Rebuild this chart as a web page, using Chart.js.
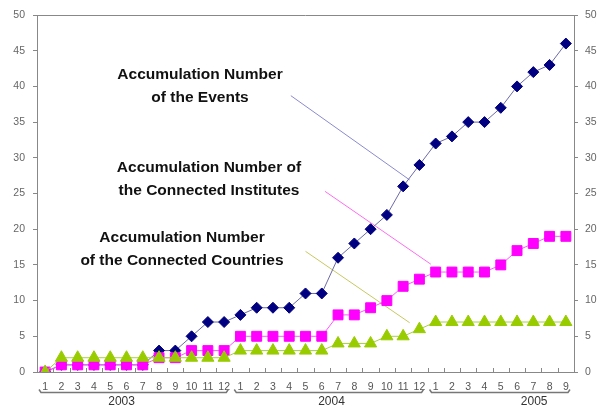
<!DOCTYPE html>
<html>
<head>
<meta charset="utf-8">
<script src="https://cdn.jsdelivr.net/npm/chart.js@4.4.1/dist/chart.umd.min.js"></script>
<style>
  html, body { margin: 0; padding: 0; background: #fff; }
</style>
</head>
<body>
<canvas id="eventChart" width="598" height="407"></canvas>
<script>
// months Jan 2003 .. Sep 2005
const years = ["2003", "2004", "2005"];
const monthsPerYear = [12, 12, 9];
const months = [
  "1","2","3","4","5","6","7","8","9","10","11","12",
  "1","2","3","4","5","6","7","8","9","10","11","12",
  "1","2","3","4","5","6","7","8","9"
];

const events = [0,1,1,1,1,1,1,3,3,5,7,7, 8,9,9,9,11,11,16,18,20,22,26,29, 32,33,35,35,37,40,42,43,46];
const institutes = [0,1,1,1,1,1,1,2,2,3,3,3, 5,5,5,5,5,5,8,8,9,10,12,13, 14,14,14,14,15,17,18,19,19];
const countries = [0,2,2,2,2,2,2,2,2,2,2,2, 3,3,3,3,3,3,4,4,4,5,5,6, 7,7,7,7,7,7,7,7,7];

const yMin = 0, yMax = 50, yStep = 5;

// callout texts and their leader lines (leader ends given in category index / value)
const callouts = [
  { lines: ["Accumulation Number", "of the Events"], x: 200, y: 79,
    color: "#8a8ad0", from: [15.1, 38.7], to: [22.4, 26.9] },
  { lines: ["Accumulation Number of", "the Connected Institutes"], x: 209, y: 172,
    color: "#ff6cf0", from: [17.2, 25.3], to: [23.7, 15.1] },
  { lines: ["Accumulation Number", "of the Connected Countries"], x: 182, y: 242,
    color: "#c8c860", from: [16.0, 16.9], to: [22.4, 6.9] }
];
const yearLabelAt = [4.7, 17.6, 30.05];

const decor = {
  id: "decor",
  beforeDatasetsDraw(chart) {
    const ctx = chart.ctx, a = chart.chartArea;
    const xs = chart.scales.x, ys = chart.scales.y;
    ctx.save();
    // top frame line
    ctx.strokeStyle = "#888";
    ctx.lineWidth = 1;
    ctx.beginPath();
    ctx.moveTo(a.left, a.top + 0.5);
    ctx.lineTo(a.right, a.top + 0.5);
    ctx.stroke();
    // inward tick marks on the category axis
    const n = months.length, w = (a.right - a.left) / n;
    ctx.beginPath();
    for (let i = 1; i < n; i++) {
      const x = Math.round(a.left + i * w) + 0.5;
      ctx.moveTo(x, a.bottom);
      ctx.lineTo(x, a.bottom - 4);
    }
    ctx.stroke();
    // leader lines
    callouts.forEach(c => {
      ctx.strokeStyle = c.color;
      ctx.lineWidth = 1;
      ctx.beginPath();
      ctx.moveTo(xs.getPixelForValue(c.from[0]), ys.getPixelForValue(c.from[1]));
      ctx.lineTo(xs.getPixelForValue(c.to[0]), ys.getPixelForValue(c.to[1]));
      ctx.stroke();
    });
    ctx.restore();
  },
  afterDraw(chart) {
    const ctx = chart.ctx, a = chart.chartArea;
    const xs = chart.scales.x;
    const w = (a.right - a.left) / months.length;
    ctx.save();
    // callout texts
    ctx.fillStyle = "#111";
    ctx.font = "bold 15.5px 'Liberation Sans', Arial, sans-serif";
    ctx.textAlign = "center";
    ctx.textBaseline = "alphabetic";
    callouts.forEach(c => {
      c.lines.forEach((t, k) => ctx.fillText(t, c.x, c.y + k * 23));
    });
    // year brackets + labels
    let start = 0;
    ctx.strokeStyle = "#777";
    ctx.lineWidth = 1.5;
    ctx.font = "12px 'Liberation Sans', Arial, sans-serif";
    ctx.fillStyle = "#333";
    ctx.textBaseline = "middle";
    years.forEach((yr, k) => {
      const x1 = a.left + start * w + 2, x2 = a.left + (start + monthsPerYear[k]) * w - 4;
      const y = 392.5;
      ctx.beginPath();
      ctx.moveTo(x1, y - 3);
      ctx.lineTo(x1 + 2, y);
      ctx.lineTo(x2 - 2, y);
      ctx.lineTo(x2, y - 3);
      ctx.stroke();
      ctx.fillText(yr, xs.getPixelForValue(yearLabelAt[k]), 401.5);
      start += monthsPerYear[k];
    });
    ctx.restore();
  }
};

const yAxisBase = (pos, width, pad) => ({
  position: pos,
  min: yMin,
  max: yMax,
  ticks: { stepSize: yStep, color: "#666", font: { size: 10.5, family: "'Liberation Sans', Arial" }, padding: pad },
  grid: { drawOnChartArea: false, tickLength: 4, color: "#888" },
  border: { color: "#888", width: 1 },
  afterFit(s) { s.width = width; }
});

new Chart(document.getElementById("eventChart"), {
  type: "line",
  data: {
    labels: months,
    datasets: [
      {
        label: "Accumulation Number of the Connected Countries",
        data: countries,
        order: 0,
        borderColor: "#a8d040",
        borderWidth: 1,
        pointStyle: "triangle",
        pointRadius: 7,
        pointBackgroundColor: "#99cc00",
        pointBorderColor: "#99cc00",
        pointBorderWidth: 1
      },
      {
        label: "Accumulation Number of the Connected Institutes",
        data: institutes,
        order: 1,
        borderColor: "#ff55ff",
        borderWidth: 1,
        pointStyle: "rect",
        pointRadius: 7,
        pointBackgroundColor: "#ff00ff",
        pointBorderColor: "#ff00ff",
        pointBorderWidth: 1
      },
      {
        label: "Accumulation Number of the Events",
        data: events,
        order: 2,
        borderColor: "#6b6ba8",
        borderWidth: 1,
        pointStyle: "rectRot",
        pointRadius: 5.5,
        pointBackgroundColor: "#000080",
        pointBorderColor: "#000080",
        pointBorderWidth: 1
      }
    ]
  },
  options: {
    responsive: false,
    animation: false,
    layout: { padding: { top: 15, left: 0, right: 0, bottom: 0 } },
    plugins: { legend: { display: false }, tooltip: { enabled: false } },
    scales: {
      x: {
        offset: true,
        grid: { display: false, drawTicks: false },
        border: { color: "#888", width: 1 },
        ticks: { autoSkip: false, maxRotation: 0, color: "#555", padding: 9,
                 font: { size: 10.5, family: "'Liberation Sans', Arial" } },
        afterFit(s) { s.height = 35; }
      },
      y: yAxisBase("left", 37, 8),
      y1: yAxisBase("right", 24, 7)
    }
  },
  plugins: [decor]
});
</script>
</body>
</html>
